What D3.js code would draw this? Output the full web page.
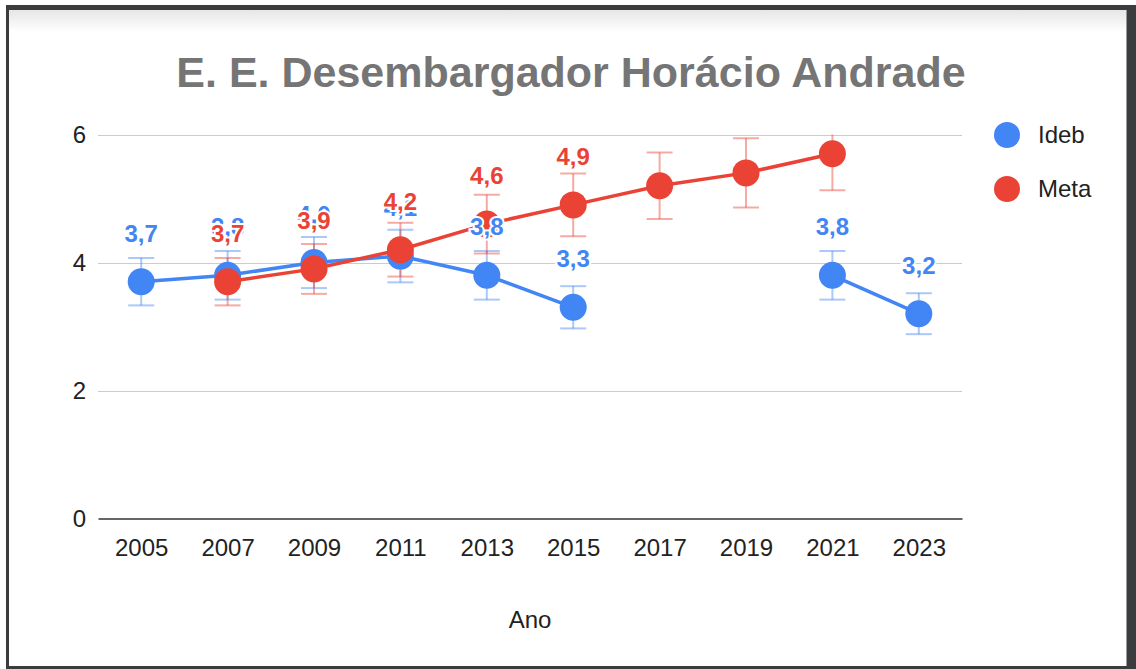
<!DOCTYPE html>
<html>
<head>
<meta charset="utf-8">
<script src="https://cdn.jsdelivr.net/npm/d3@7"></script>
<style>
  body { margin: 0; background: #fff; }
  svg { display: block; font-family: Arial, "Liberation Sans", sans-serif; }
</style>
</head>
<body>
<div id="chart"></div>
<script>
// data
var years = ["2005", "2007", "2009", "2011", "2013", "2015", "2017", "2019", "2021", "2023"];
var ideb = [3.7, 3.8, 4.0, 4.1, 3.8, 3.3, null, null, 3.8, 3.2];
var meta = [null, 3.7, 3.9, 4.2, 4.6, 4.9, 5.2, 5.4, 5.7, null];
var yTicks = [0, 2, 4, 6];
var errPct = 0.1; // error bars +/-10%

var width = 1136,
    height = 669;

var series = [
  { name: "Ideb", values: ideb, color: "#4285F4" },
  { name: "Meta", values: meta, color: "#EA4335" }
];

var svg = d3.select("#chart")
            .append("svg")
            .attr("width", width)
            .attr("height", height);

// frame around the screenshot
svg.append("rect").attr("x", 6).attr("y", 5).attr("width", width - 6).attr("height", height - 5).attr("fill", "#3b3c3e");
svg.append("rect").attr("x", 9).attr("y", 10).attr("width", 1117).attr("height", 656).attr("fill", "#fff");
svg.append("line").attr("x1", 1126.5).attr("x2", 1126.5).attr("y1", 10).attr("y2", 666).attr("stroke", "#9a9a9a");

var defs = svg.append("defs");
var grad = defs.append("linearGradient").attr("id", "shade").attr("x1", 0).attr("x2", 0).attr("y1", 0).attr("y2", 1);
grad.append("stop").attr("offset", "0%").attr("stop-color", "#e6e6e6");
grad.append("stop").attr("offset", "100%").attr("stop-color", "#fff");
svg.append("rect").attr("x", 9).attr("y", 10).attr("width", 1117).attr("height", 22).attr("fill", "url(#shade)");

var x = d3.scalePoint()
          .domain(years)
          .range([98, 962])
          .padding(0.5);

var y = d3.scaleLinear()
          .domain([0, 6])
          .range([518.5, 134.5]);

defs.append("clipPath").attr("id", "plot")
    .append("rect").attr("x", 98).attr("y", y(6)).attr("width", 864).attr("height", y(0) - y(6));

// title
svg.append("text")
   .attr("x", 571)
   .attr("y", 87)
   .attr("text-anchor", "middle")
   .style("font-size", "43px")
   .style("font-weight", "bold")
   .style("fill", "#757575")
   .text("E. E. Desembargador Horácio Andrade");

// gridlines
svg.append("g")
   .selectAll("line")
   .data(yTicks.filter(function(d) { return d > 0; }))
   .enter().append("line")
   .attr("x1", 98).attr("x2", 962)
   .attr("y1", function(d) { return Math.round(y(d)) + 0.5; })
   .attr("y2", function(d) { return Math.round(y(d)) + 0.5; })
   .attr("stroke", "#cccccc")
   .attr("stroke-width", 1.2);

// y axis labels
var yAxis = d3.axisLeft(y).tickValues(yTicks).tickFormat(d3.format("d")).tickSize(0).tickPadding(12);
var gy = svg.append("g").attr("transform", "translate(98,0)").call(yAxis);
gy.select(".domain").remove();
gy.selectAll("text").style("font-size", "24px").style("fill", "#222").attr("font-family", null);

// x axis
var xAxis = d3.axisBottom(x).tickSize(0).tickPadding(20);
var gx = svg.append("g").attr("transform", "translate(0," + y(0) + ")").call(xAxis);
gx.select(".domain").attr("stroke", "#333").attr("stroke-width", 1.6);
gx.selectAll("text").style("font-size", "24px").style("fill", "#222").attr("font-family", null);

svg.append("text")
   .attr("x", 530)
   .attr("y", 628)
   .attr("text-anchor", "middle")
   .style("font-size", "24px")
   .style("fill", "#222")
   .text("Ano");

var plot = svg.append("g").attr("clip-path", "url(#plot)");

function pts(s) {
  return years.map(function(yr, i) { return { year: yr, v: s.values[i] }; });
}

// error bars
series.forEach(function(s) {
  var g = plot.append("g")
              .attr("stroke", s.color)
              .attr("stroke-opacity", 0.45)
              .attr("stroke-width", 2);
  var d = pts(s).filter(function(p) { return p.v != null; });
  g.selectAll("line.v").data(d).enter().append("line")
   .attr("x1", function(p) { return x(p.year); })
   .attr("x2", function(p) { return x(p.year); })
   .attr("y1", function(p) { return y(p.v * (1 - errPct)); })
   .attr("y2", function(p) { return y(p.v * (1 + errPct)); });
  [1 - errPct, 1 + errPct].forEach(function(f) {
    g.selectAll(null).data(d).enter().append("line")
     .attr("x1", function(p) { return x(p.year) - 13; })
     .attr("x2", function(p) { return x(p.year) + 13; })
     .attr("y1", function(p) { return y(p.v * f); })
     .attr("y2", function(p) { return y(p.v * f); });
  });
});

// lines and points
var line = d3.line()
             .defined(function(p) { return p.v != null; })
             .x(function(p) { return x(p.year); })
             .y(function(p) { return y(p.v); });

series.forEach(function(s) {
  plot.append("path")
      .datum(pts(s))
      .attr("d", line)
      .attr("fill", "none")
      .attr("stroke", s.color)
      .attr("stroke-width", 3.5);
  plot.selectAll(null)
      .data(pts(s).filter(function(p) { return p.v != null; }))
      .enter().append("circle")
      .attr("cx", function(p) { return x(p.year); })
      .attr("cy", function(p) { return y(p.v); })
      .attr("r", 13.5)
      .attr("fill", s.color);
});

// value labels (only years the series was labelled in)
var labelled = {
  Ideb: ["2005", "2007", "2009", "2011", "2013", "2015", "2021", "2023"],
  Meta: ["2007", "2009", "2011", "2013", "2015"]
};
series.forEach(function(s) {
  svg.append("g")
     .selectAll("text")
     .data(pts(s).filter(function(p) { return p.v != null && labelled[s.name].indexOf(p.year) >= 0; }))
     .enter().append("text")
     .attr("x", function(p) { return x(p.year); })
     .attr("y", function(p) { return y(p.v) - 40; })
     .attr("text-anchor", "middle")
     .style("font-size", "24px")
     .style("font-weight", "bold")
     .style("fill", s.color)
     .style("stroke", "#fff")
     .style("stroke-width", 4)
     .style("paint-order", "stroke")
     .text(function(p) { return p.v.toFixed(1).replace(".", ","); });
});

// legend
var leg = svg.append("g")
             .selectAll("g")
             .data(series)
             .enter().append("g")
             .attr("transform", function(d, i) { return "translate(1007," + (135 + i * 54) + ")"; });
leg.append("circle").attr("r", 13).attr("fill", function(d) { return d.color; });
leg.append("text")
   .attr("x", 31)
   .attr("dy", "0.35em")
   .style("font-size", "24px")
   .style("fill", "#222")
   .text(function(d) { return d.name; });
</script>
</body>
</html>
